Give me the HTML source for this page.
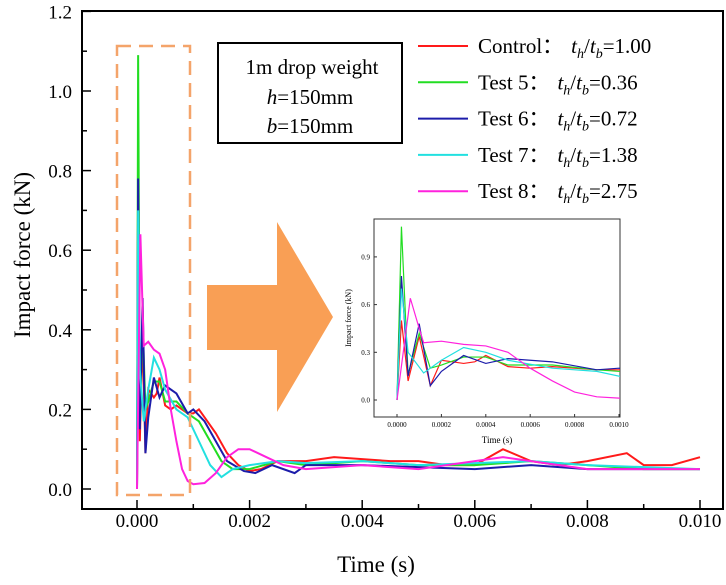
<!DOCTYPE html>
<html><head><meta charset="utf-8"><style>
body{margin:0;background:#fff;}
svg{display:block;font-family:"Liberation Serif",serif;}
</style></head><body>
<svg id="c" width="726" height="585" viewBox="0 0 726 585"></svg>
<script>
const seriesNames=["Control","Test 5","Test 6","Test 7","Test 8"];
const ratioLabels=["1.00","0.36","0.72","1.38","2.75"];
const colors=["#ff1a1a","#22dd22","#1c1caa","#22e0e0","#ff22dd"];
const xTicks=[0,0.002,0.004,0.006,0.008,0.010];
const yTicks=[0,0.2,0.4,0.6,0.8,1.0,1.2];
const insetXTicks=[0,0.0002,0.0004,0.0006,0.0008,0.0010];
const insetYTicks=[0,0.3,0.6,0.9];
const tControl=[0,0.00002,0.00005,0.0001,0.00015,0.0002,0.00025,0.0003,0.00035,0.0004,0.0005,0.0006,0.0007,0.0008,0.0009,0.001,0.0011,0.0012,0.0014,0.0016,0.0018,0.002,0.0022,0.0025,0.003,0.0035,0.004,0.0045,0.005,0.0055,0.006,0.0065,0.007,0.0075,0.008,0.0087,0.009,0.0095,0.01];
const fControl=[0,0.5,0.12,0.4,0.09,0.25,0.24,0.23,0.24,0.28,0.21,0.2,0.21,0.2,0.19,0.19,0.2,0.18,0.14,0.09,0.06,0.045,0.05,0.07,0.07,0.08,0.075,0.07,0.07,0.06,0.06,0.1,0.07,0.06,0.07,0.09,0.06,0.06,0.08];
const tTest5=[0,0.00002,0.00005,0.0001,0.00015,0.0002,0.0003,0.0004,0.0005,0.0007,0.0009,0.0011,0.0013,0.0015,0.0017,0.002,0.0025,0.003,0.004,0.005,0.006,0.007,0.008,0.009,0.01];
const fTest5=[0,1.09,0.16,0.42,0.2,0.22,0.27,0.27,0.22,0.22,0.19,0.17,0.12,0.07,0.05,0.05,0.07,0.06,0.07,0.06,0.06,0.07,0.06,0.05,0.05];
const tTest6=[0,0.00002,0.00005,0.0001,0.00015,0.0002,0.0003,0.0004,0.0005,0.0007,0.0009,0.001,0.0012,0.0014,0.0016,0.0019,0.0021,0.0024,0.0028,0.003,0.004,0.005,0.006,0.007,0.008,0.009,0.01];
const fTest6=[0,0.78,0.15,0.48,0.09,0.18,0.28,0.23,0.26,0.24,0.19,0.2,0.17,0.12,0.07,0.045,0.04,0.06,0.04,0.06,0.06,0.055,0.05,0.06,0.05,0.05,0.05];
const tTest7=[0,0.00002,0.00005,0.00012,0.0002,0.0003,0.0004,0.0005,0.0007,0.0009,0.0011,0.0013,0.0015,0.0017,0.002,0.0025,0.003,0.004,0.005,0.006,0.007,0.008,0.009,0.01];
const fTest7=[0,0.7,0.3,0.17,0.25,0.33,0.3,0.25,0.2,0.18,0.12,0.06,0.03,0.05,0.06,0.07,0.065,0.07,0.06,0.065,0.07,0.06,0.055,0.05];
const tTest8=[0,0.00006,0.0001,0.00012,0.0002,0.0003,0.0004,0.0005,0.0006,0.0007,0.0008,0.0009,0.001,0.0012,0.0014,0.0016,0.0018,0.002,0.0023,0.0026,0.003,0.004,0.005,0.0065,0.008,0.01];
const fTest8=[0,0.64,0.45,0.36,0.37,0.35,0.34,0.3,0.2,0.12,0.05,0.02,0.012,0.015,0.04,0.08,0.1,0.1,0.08,0.06,0.05,0.06,0.05,0.08,0.05,0.05];
const allT=[tControl,tTest5,tTest6,tTest7,tTest8];
const allF=[fControl,fTest5,fTest6,fTest7,fTest8];

const NS="http://www.w3.org/2000/svg";
const svg=document.getElementById('c');
function mk(tag,attrs,parent){const e=document.createElementNS(NS,tag);for(const k in attrs)e.setAttribute(k,attrs[k]);(parent||svg).appendChild(e);return e;}
// main axes
const X=t=>137+t/0.001*56.3;
const Y=f=>489-f/0.1*39.8;
const L=82,R=723,T=11,B=509;
// insets
const IX=t=>397+t/0.001*222;
const IY=f=>400-f/0.3*47.7;
const IL=374,IR=620,IT=219,IB=417;

const defs=mk('defs',{});
const cp=mk('clipPath',{id:'mc'},defs);mk('rect',{x:L,y:T,width:R-L,height:B-T},cp);
const cp2=mk('clipPath',{id:'ic'},defs);mk('rect',{x:IL,y:IT,width:IR-IL,height:IB-IT},cp2);

// series main
for(let s=0;s<5;s++){
  const p=mk('polyline',{points:allT[s].map((t,i)=>X(t)+','+Y(allF[s][i])).join(' '),fill:'none',stroke:colors[s],'stroke-width':2,'clip-path':'url(#mc)'});
  
  
}
// frame
const fr=mk('rect',{x:L,y:T,width:R-L,height:B-T,fill:'none',stroke:'#000','stroke-width':2});

// x ticks
for(let t=0;t<=0.0101;t+=0.001){mk('line',{x1:X(t),x2:X(t),y1:B,y2:B-(Math.round(t*1000)%2?5:9),stroke:'#000','stroke-width':1.5});}
xTicks.forEach(t=>{const e=mk('text',{x:X(t),y:527,'text-anchor':'middle','font-size':19});e.textContent=t.toFixed(3);
});
for(let f=0;f<=1.21;f+=0.1){mk('line',{x1:L,x2:L+(Math.round(f*10)%2?5:9),y1:Y(f),y2:Y(f),stroke:'#000','stroke-width':1.5});}
yTicks.forEach(f=>{const e=mk('text',{x:72,y:Y(f)+7,'text-anchor':'end','font-size':19});e.textContent=f.toFixed(1);
});
let e=mk('text',{x:376,y:572,'text-anchor':'middle','font-size':23});e.textContent='Time (s)';

e=mk('text',{x:0,y:0,'text-anchor':'middle','font-size':23,transform:'translate(30,255) rotate(-90)'});e.textContent='Impact force (kN)';


// dashed highlight
e=mk('rect',{x:117,y:46,width:73,height:449,fill:'none',stroke:'#f4a46a','stroke-width':2.5,'stroke-dasharray':'14,8'});

// arrow
e=mk('polygon',{points:'207,285 277,285 277,222 333,317 277,412 277,350 207,350',fill:'#f99f55'});

// info box
const g=mk('g',{});
mk('rect',{x:218,y:43,width:184,height:100,fill:'#fff',stroke:'#000','stroke-width':2},g);
e=mk('text',{x:312,y:74,'text-anchor':'middle','font-size':21},g);e.textContent='1m drop weight';
e=mk('text',{x:310,y:104,'text-anchor':'middle','font-size':21},g);e.innerHTML='<tspan font-style="italic">h</tspan>=150mm';
e=mk('text',{x:310,y:133,'text-anchor':'middle','font-size':21},g);e.innerHTML='<tspan font-style="italic">b</tspan>=150mm';

// legend
const leg=mk('g',{});
for(let s=0;s<5;s++){
  const y=46+s*36.3;
  const ln=mk('line',{x1:418,x2:468,y1:y,y2:y,stroke:colors[s],'stroke-width':2},leg);
  
  const tx=mk('text',{x:478,y:y+7,'font-size':21},leg);
  
  tx.innerHTML=seriesNames[s]+'：<tspan dx="8" font-style="italic">t</tspan><tspan font-style="italic" font-size="14" dy="5">h</tspan><tspan dy="-5">/</tspan><tspan font-style="italic">t</tspan><tspan font-style="italic" font-size="14" dy="5">b</tspan><tspan dy="-5">='+ratioLabels[s]+'</tspan>';
}

// inset
const ig=mk('g',{});
mk('rect',{x:IL,y:IT,width:IR-IL,height:IB-IT,fill:'#fff',stroke:'#333','stroke-width':1},ig);
for(let s=0;s<5;s++){
  const p=mk('polyline',{points:allT[s].map((t,i)=>IX(t)+','+IY(allF[s][i])).join(' '),fill:'none',stroke:colors[s],'stroke-width':1.2,'clip-path':'url(#ic)'},ig);
  
}
insetXTicks.forEach(t=>{mk('line',{x1:IX(t),x2:IX(t),y1:IB,y2:IB-3,stroke:'#333'},ig);
  const tx=mk('text',{x:IX(t),y:427,'text-anchor':'middle','font-size':7},ig);tx.textContent=t.toFixed(4);});
insetYTicks.forEach(f=>{mk('line',{x1:IL,x2:IL+3,y1:IY(f),y2:IY(f),stroke:'#333'},ig);
  const tx=mk('text',{x:370,y:IY(f)+2.5,'text-anchor':'end','font-size':7},ig);tx.textContent=f.toFixed(1);});
e=mk('text',{x:497,y:443,'text-anchor':'middle','font-size':9},ig);e.textContent='Time (s)';
e=mk('text',{x:0,y:0,'text-anchor':'middle','font-size':8,transform:'translate(351,318) rotate(-90)'},ig);e.textContent='Impact force (kN)';
</script>
</body></html>
